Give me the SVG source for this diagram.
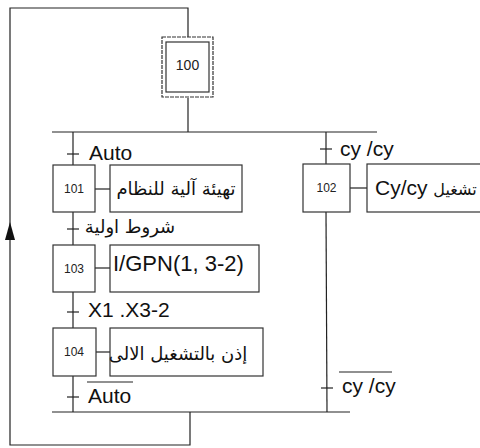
<svg xmlns="http://www.w3.org/2000/svg" width="480" height="448" viewBox="0 0 480 448">
<style>
.ln{stroke:#222;stroke-width:1.2;fill:none}
.box{stroke:#333;stroke-width:1.2;fill:#fff}
.num{font-family:"Liberation Sans",Arial,sans-serif;font-size:12px;fill:#222;text-anchor:middle}
.lbl{font-family:"Liberation Sans","DejaVu Sans",sans-serif;font-size:21px;fill:#111}
.ar{font-family:"DejaVu Sans","Noto Sans",sans-serif;font-size:18px;fill:#111;text-anchor:middle}
</style>
<g id="connectors">
<polyline class="ln" points="190,412 190,445 10,445 10,8 188,8 188,37"/>
<polygon points="10,222 5,240 15,240" fill="#111"/>
<line class="ln" x1="188" y1="98" x2="188" y2="132"/>
<line class="ln" x1="52" y1="132" x2="377" y2="132"/>
<line class="ln" x1="52" y1="412" x2="350" y2="412"/>
<line class="ln" x1="73" y1="132" x2="73" y2="165"/>
<line class="ln" x1="73" y1="212" x2="73" y2="245"/>
<line class="ln" x1="73" y1="292" x2="73" y2="328"/>
<line class="ln" x1="73" y1="376" x2="73" y2="412"/>
<line class="ln" x1="326" y1="132" x2="326" y2="164"/>
<line class="ln" x1="326" y1="212" x2="327" y2="412"/>
<line class="ln" x1="95" y1="189" x2="110" y2="189"/>
<line class="ln" x1="95" y1="268" x2="110" y2="268"/>
<line class="ln" x1="96" y1="352" x2="110" y2="352"/>
<line class="ln" x1="350" y1="188" x2="367" y2="188"/>
</g>
<g id="t-auto"><line class="ln" x1="67" y1="154" x2="79" y2="154"/><text class="lbl" x="89" y="160">Auto</text></g>
<g id="t-shurut"><line class="ln" x1="67" y1="229" x2="79" y2="229"/><text class="ar" x="130" y="233">شروط اولية</text></g>
<g id="t-x1"><line class="ln" x1="67" y1="312" x2="79" y2="312"/><text class="lbl" x="88" y="317">X1 .X3-2</text></g>
<g id="t-notauto"><line class="ln" x1="67" y1="397" x2="79" y2="397"/><line class="ln" x1="87" y1="382" x2="133" y2="382"/><text class="lbl" x="88" y="403">Auto</text></g>
<g id="t-cy"><line class="ln" x1="320" y1="149" x2="332" y2="149"/><text class="lbl" x="340" y="156">cy /cy</text></g>
<g id="t-notcy"><line class="ln" x1="321" y1="388" x2="333" y2="388"/><line class="ln" x1="339" y1="372" x2="392" y2="372"/><text class="lbl" x="342" y="393">cy /cy</text></g>
<g id="s100">
<rect class="box" x="162" y="37" width="51" height="60" stroke-dasharray="4 1"/>
<rect class="box" x="166" y="42" width="43" height="50"/>
<text class="num" x="187.5" y="70" style="font-size:14px">100</text>
</g>
<g id="s101"><rect class="box" x="53" y="165" width="42" height="47"/><text class="num" x="74" y="193">101</text></g>
<g id="a101"><rect class="box" x="110" y="165" width="132" height="47"/><text class="ar" x="176" y="195">تهيئة آلية للنظام</text></g>
<g id="s103"><rect class="box" x="53" y="245" width="42" height="47"/><text class="num" x="74" y="273">103</text></g>
<g id="a103"><rect class="box" x="110" y="245" width="149" height="47"/><text class="lbl" x="113" y="271" style="font-size:22px">I/GPN(1, 3-2)</text></g>
<g id="s104"><rect class="box" x="53" y="328" width="43" height="48"/><text class="num" x="74" y="356">104</text></g>
<g id="a104"><rect class="box" x="110" y="328" width="153" height="48"/><text class="ar" x="178" y="360">إذن بالتشغيل الالى</text></g>
<g id="s102"><rect class="box" x="303" y="164" width="47" height="48"/><text class="num" x="326.5" y="192">102</text></g>
<g id="a102"><rect class="box" x="367" y="164" width="116" height="48"/><text class="lbl" x="375" y="195">Cy/cy <tspan style="font-family:'DejaVu Sans',sans-serif;font-size:16px">تشغيل</tspan></text></g>
</svg>
